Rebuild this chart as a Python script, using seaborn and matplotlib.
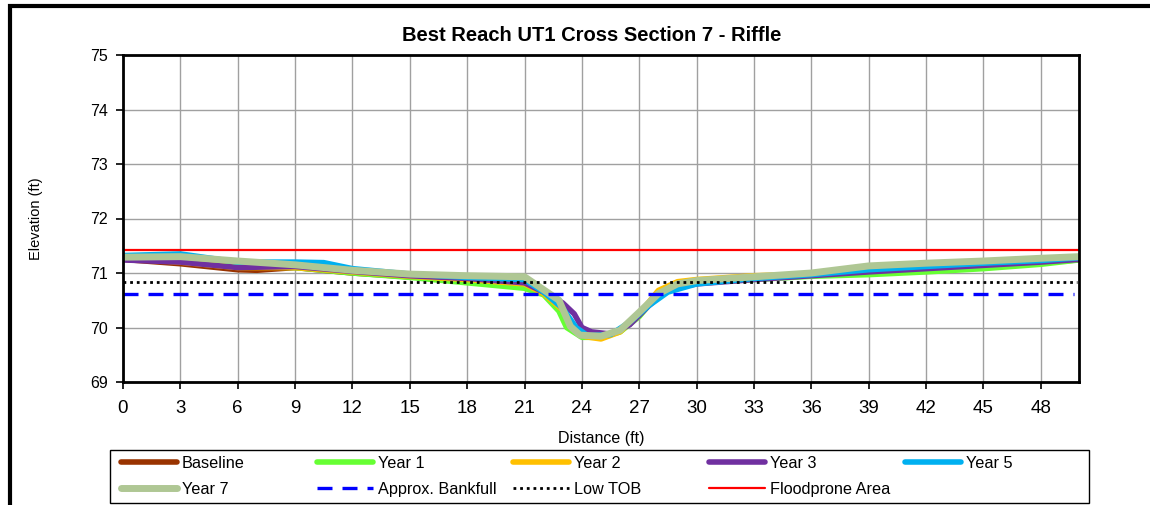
import matplotlib
matplotlib.use("Agg")
import matplotlib.pyplot as plt
import seaborn as sns
import pandas as pd
from matplotlib.patches import Rectangle

# ---------------- data ----------------
baseline_x = [0, 3, 6, 7, 9, 12, 15, 18, 21, 22, 23, 23.5, 24, 25, 26, 27, 28, 29, 30, 33, 36, 39, 42, 45, 48, 50]
baseline_y = [71.25, 71.17, 71.06, 71.05, 71.10, 71.00, 70.93, 70.88, 70.78, 70.62, 70.30, 70.05, 69.88, 69.84, 69.95, 70.25, 70.60, 70.76, 70.83, 70.90, 70.97, 71.03, 71.08, 71.14, 71.20, 71.24]

year1_x = [0, 3, 6, 9, 12, 15, 18, 21, 22, 22.8, 23.2, 24, 25, 26, 27, 27.6, 28.5, 30, 33, 36, 39, 42, 45, 48, 50]
year1_y = [71.27, 71.22, 71.12, 71.10, 71.00, 70.92, 70.82, 70.72, 70.60, 70.30, 70.00, 69.82, 69.82, 69.92, 70.20, 70.45, 70.68, 70.82, 70.88, 70.94, 70.97, 71.02, 71.08, 71.16, 71.24]

year2_x = [0, 3, 6, 9, 12, 15, 18, 21, 22, 23, 23.6, 24.2, 25, 26, 27, 28, 29, 30, 33, 36, 39, 42, 45, 48, 50]
year2_y = [71.27, 71.20, 71.10, 71.10, 71.02, 70.94, 70.88, 70.80, 70.62, 70.32, 70.00, 69.83, 69.79, 69.92, 70.25, 70.68, 70.84, 70.88, 70.95, 70.98, 71.05, 71.10, 71.15, 71.22, 71.27]

year3_x = [0, 3, 6, 9, 12, 15, 18, 21, 22, 23, 23.6, 24, 24.5, 25.5, 26.5, 27.5, 28.5, 30, 33, 36, 39, 42, 45, 48, 50]
year3_y = [71.24, 71.20, 71.10, 71.12, 71.03, 70.95, 70.90, 70.82, 70.65, 70.45, 70.25, 70.00, 69.92, 69.88, 70.05, 70.40, 70.70, 70.80, 70.88, 70.95, 71.02, 71.08, 71.14, 71.20, 71.25]

year5_x = [0, 3, 6, 9, 10.5, 12, 15, 18, 21, 22, 23, 23.7, 24.3, 25.5, 26.5, 27.5, 28.5, 30, 33, 36, 39, 42, 45, 48, 50]
year5_y = [71.32, 71.35, 71.20, 71.20, 71.19, 71.08, 70.98, 70.92, 70.88, 70.65, 70.35, 70.00, 69.85, 69.87, 70.10, 70.40, 70.65, 70.80, 70.90, 70.97, 71.06, 71.12, 71.18, 71.23, 71.28]

year7_x = [0, 3, 6, 9, 12, 15, 18, 21, 21.8, 22.8, 23.4, 23.9, 25, 26, 27, 28, 29, 30, 33, 36, 39, 42, 45, 48, 50]
year7_y = [71.29, 71.30, 71.22, 71.15, 71.05, 70.98, 70.95, 70.93, 70.74, 70.50, 70.02, 69.86, 69.84, 69.95, 70.28, 70.62, 70.80, 70.86, 70.93, 71.00, 71.13, 71.18, 71.22, 71.27, 71.30]

bankfull = 70.62
low_tob = 70.83
floodprone = 71.42

series_names = ["Baseline", "Year 1", "Year 2", "Year 3", "Year 5", "Year 7"]
series_x = [baseline_x, year1_x, year2_x, year3_x, year5_x, year7_x]
series_y = [baseline_y, year1_y, year2_y, year3_y, year5_y, year7_y]

x_ticks = list(range(0, 49, 3))
y_ticks = [69, 70, 71, 72, 73, 74, 75]

# ---------------- style ----------------
sns.set_theme(style="white")
plt.rcParams['font.family'] = ['Liberation Sans', 'DejaVu Sans']

colors = {"Baseline": "#993300", "Year 1": "#66FF33", "Year 2": "#FFC000",
          "Year 3": "#7030A0", "Year 5": "#00B0F0", "Year 7": "#AFC794"}
widths = {"Baseline": 4.0, "Year 1": 4.0, "Year 2": 4.0,
          "Year 3": 4.0, "Year 5": 4.0, "Year 7": 5.0}

W, H = 1150, 505
fig = plt.figure(figsize=(W / 100, H / 100), dpi=100)
fig.patch.set_facecolor("white")
ax = fig.add_axes([123 / W, 1 - 382 / H, (1079 - 123) / W, (382 - 55) / H])

for name, xs, ys in zip(series_names, series_x, series_y):
    df = pd.DataFrame({"Distance": xs, "Elevation": ys})
    sns.lineplot(data=df, x="Distance", y="Elevation", ax=ax, sort=False,
                 color=colors[name], linewidth=widths[name], label=name,
                 solid_capstyle="round", legend=False)

ax.axhline(bankfull, color="#0000FF", linewidth=2.4, linestyle=(0, (4.5, 3)),
           xmin=0, xmax=0.995, label="Approx. Bankfull")
ax.axhline(low_tob, color="black", linewidth=2.0, linestyle=(0, (1, 1.4)),
           xmin=0, xmax=0.998, label="Low TOB")
ax.axhline(floodprone, color="#FF0000", linewidth=1.6, label="Floodprone Area")

ax.set_xlim(0, 50)
ax.set_ylim(69, 75)
ax.set_xticks(x_ticks)
ax.set_yticks(y_ticks)
ax.tick_params(axis="x", labelsize=13.5, length=5, width=1.2, direction="out",
               bottom=True, pad=8, colors="black")
ax.tick_params(axis="y", labelsize=11.5, length=5, width=1.2, direction="out",
               left=True, pad=6, colors="black")
ax.grid(True, color="#A0A0A0", linewidth=1.0)
ax.set_axisbelow(True)
for s in ax.spines.values():
    s.set_color("black")
    s.set_linewidth(2.0)

ax.set_xlabel("Distance (ft)", fontsize=11.5, color="black", labelpad=10)
ax.set_ylabel("Elevation (ft)", fontsize=10.5, color="black", labelpad=34)
fig.text(592 / W, 1 - 35 / H, "Best Reach UT1 Cross Section 7 - Riffle",
         ha="center", va="center", fontsize=14.5, fontweight="bold", color="black")

# legend: five evenly spaced columns, filled row by row
h, lab = ax.get_legend_handles_labels()
columns = [[0, 5], [1, 6], [2, 7], [3, 8], [4]]
for ci, idx in enumerate(columns):
    leg = fig.legend([h[i] for i in idx], [lab[i] for i in idx],
                     loc="upper left",
                     bbox_to_anchor=((121 + 196 * ci) / W, 1 - 456 / H),
                     ncol=1, fontsize=11.7, frameon=False,
                     handlelength=3.45, handletextpad=0.3, borderpad=0,
                     labelspacing=0.66, borderaxespad=0)
    for t in leg.get_texts():
        t.set_color("black")
fig.patches.append(Rectangle((110 / W, 1 - 503 / H), (1089 - 110) / W, (503 - 450) / H,
                             transform=fig.transFigure, fill=False,
                             edgecolor="black", linewidth=1.0))

# outer chart border
fig.patches.append(Rectangle((10 / W, -0.1), 1.2, 1 - 6 / H + 0.1, transform=fig.transFigure,
                             fill=False, edgecolor="black", linewidth=3, zorder=0))

fig.savefig("out.png", dpi=100)
